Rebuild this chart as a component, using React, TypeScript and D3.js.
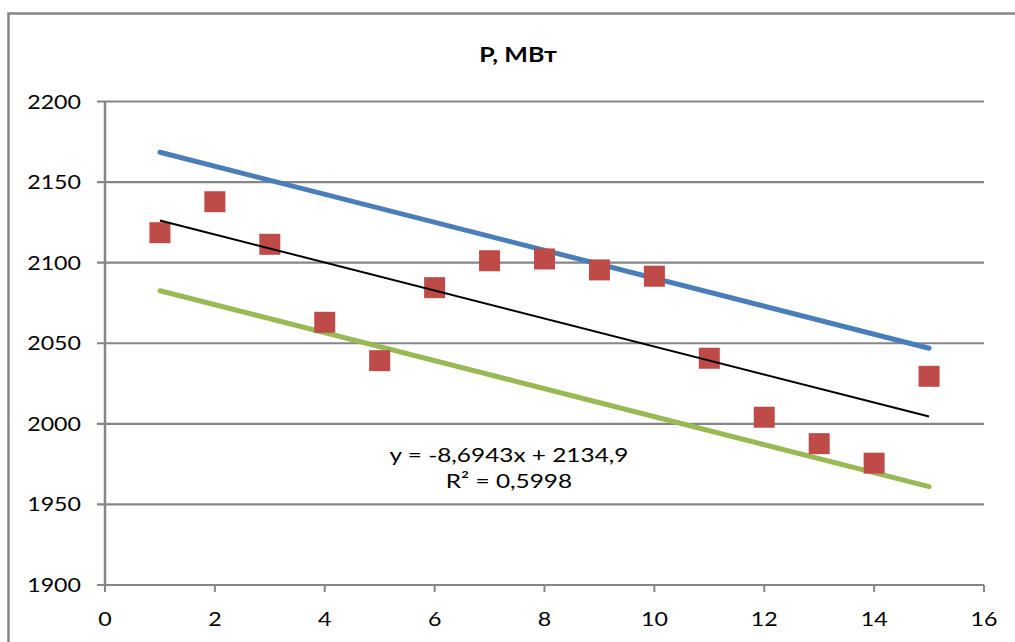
import React, { useRef, useEffect } from "react";
import * as d3 from "d3";

const pointX = [1, 2, 3, 4, 5, 6, 7, 8, 9, 10, 11, 12, 13, 14, 15];
const powerValues = [
  2118.6, 2137.8, 2111.4, 2063.0, 2039.2, 2084.5, 2101.2, 2102.3, 2095.5,
  2091.6, 2040.7, 2004.1, 1987.7, 1975.6, 2029.5,
];
const bandX = [1, 15];
const upperBand = [2168.5, 2046.9];
const lowerBand = [2082.6, 1961.0];
const trendLine = [2126.2, 2004.5];
const xTicks = [0, 2, 4, 6, 8, 10, 12, 14, 16];
const yTicks = [1900, 1950, 2000, 2050, 2100, 2150, 2200];
const chartTitle = "P, МВт";
const equationText = "y = -8,6943x + 2134,9";
const r2Text = "R² = 0,5998";

const FONT = "Lato, 'Open Sans', sans-serif";
const GRID = "#868686";

const App = () => {
  const svgRef = useRef<SVGSVGElement>(null);

  useEffect(() => {
    const svg = d3.select(svgRef.current);
    svg.selectAll("*").remove();

    const width = 1015;
    const height = 642;
    svg.attr("viewBox", `0 0 ${width} ${height}`);

    const x = d3.scaleLinear().domain([0, 16]).range([105, 984]);
    const y = d3.scaleLinear().domain([1900, 2200]).range([585, 101.5]);

    // outer chart frame (only left and top edges fall inside the picture)
    svg
      .append("path")
      .attr("d", `M8.5,${height + 5} L8.5,13.5 L${width + 5},13.5`)
      .attr("fill", "none")
      .attr("stroke", GRID)
      .attr("stroke-width", 2.5);

    // text in the source is horizontally stretched
    const label = (
      tx: number,
      ty: number,
      text: string,
      anchor: string,
      size: number,
      weight = "normal"
    ) => {
      svg
        .append("g")
        .attr("transform", `translate(${tx},${ty}) scale(1.22,1)`)
        .append("text")
        .attr("text-anchor", anchor)
        .attr("font-family", FONT)
        .attr("font-size", size)
        .attr("font-weight", weight)
        .attr("fill", "#000")
        .text(text);
    };

    label(518, 62, chartTitle, "middle", 20.5, "bold");

    // horizontal gridlines + y ticks
    const grid = svg.append("g");
    yTicks.forEach((t) => {
      grid
        .append("line")
        .attr("x1", 97)
        .attr("x2", x(16))
        .attr("y1", y(t))
        .attr("y2", y(t))
        .attr("stroke", GRID)
        .attr("stroke-width", 2.2);
      label(81, y(t) + 7, String(t), "end", 19);
    });

    // x axis ticks
    xTicks.forEach((t) => {
      grid
        .append("line")
        .attr("x1", x(t))
        .attr("x2", x(t))
        .attr("y1", y(1900))
        .attr("y2", y(1900) + 7)
        .attr("stroke", GRID)
        .attr("stroke-width", 2);
      label(x(t), 626, String(t), "middle", 19);
    });

    // y axis line
    grid
      .append("line")
      .attr("x1", x(0))
      .attr("x2", x(0))
      .attr("y1", y(2200))
      .attr("y2", y(1900) + 1)
      .attr("stroke", GRID)
      .attr("stroke-width", 2.5);

    const bandLine = d3
      .line<number>()
      .x((_, i) => x(bandX[i]))
      .y((d) => y(d));

    svg
      .append("path")
      .datum(upperBand)
      .attr("fill", "none")
      .attr("stroke", "#4A7EBB")
      .attr("stroke-width", 5)
      .attr("stroke-linecap", "round")
      .attr("d", bandLine);

    svg
      .append("path")
      .datum(lowerBand)
      .attr("fill", "none")
      .attr("stroke", "#98B954")
      .attr("stroke-width", 5)
      .attr("stroke-linecap", "round")
      .attr("d", bandLine);

    // scatter points
    const size = 21;
    svg
      .append("g")
      .selectAll("rect")
      .data(powerValues)
      .join("rect")
      .attr("x", (_, i) => x(pointX[i]) - size / 2)
      .attr("y", (d) => y(d) - size / 2)
      .attr("width", size)
      .attr("height", size)
      .attr("fill", "#BE4B48");

    // linear trendline
    svg
      .append("path")
      .datum(trendLine)
      .attr("fill", "none")
      .attr("stroke", "#000")
      .attr("stroke-width", 2)
      .attr("d", bandLine);

    label(509, 462, equationText, "middle", 20);
    label(509, 488, r2Text, "middle", 20);
  }, []);

  return (
    <svg
      ref={svgRef}
      width={1015}
      height={642}
      style={{ position: "absolute", left: 0, top: 0, display: "block", background: "#fff" }}
    ></svg>
  );
};

export default App;
